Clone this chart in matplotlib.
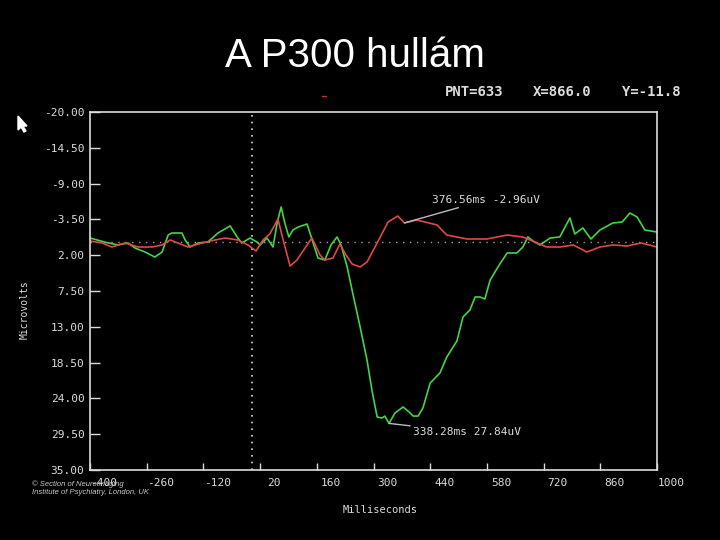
import numpy as np
import matplotlib
matplotlib.use("Agg")
import matplotlib.pyplot as plt
import matplotlib.transforms as mtransforms
from matplotlib.patches import Polygon

# ERP waveforms (ms, microvolts; negative up)
green_t = [-400, -363, -331, -306, -289, -264, -240, -222, -207, -198, -173, -165,
           -153, -133, -109, -84, -54, -35, -25, -5, 12, 20, 37, 52, 62, 72, 81,
           91, 101, 114, 136, 151, 163, 180, 195, 210, 220, 235, 247, 267, 284,
           296, 309, 321, 328, 338.28, 353, 373, 388, 398, 410, 422, 440, 464,
           481, 506, 521, 538, 551, 563, 575, 588, 612, 630, 654, 669, 681, 694,
           711, 736, 760, 773, 785, 797, 817, 837, 859, 891, 914, 933, 951, 970,
           1000]
green_v = [-0.64, 0.0, 0.43, 0.12, 0.89, 1.51, 2.28, 1.51, -1.10, -1.41, -1.41,
           -0.34, 0.74, 0.12, -0.03, -1.41, -2.49, -0.64, 0.12, -0.64, -0.03,
           0.43, -0.64, 0.74, -2.95, -5.41, -2.95, -0.80, -1.87, -2.33, -2.79,
           0.12, 2.43, 2.74, 0.43, -0.80, 0.43, 3.81, 7.34, 13.03, 18.10, 22.71,
           26.86, 27.01, 26.71, 27.84, 26.24, 25.32, 26.09, 26.71, 26.71, 25.47,
           21.63, 20.10, 17.64, 15.18, 11.49, 10.42, 8.42, 8.42, 8.73, 5.81,
           3.35, 1.66, 1.66, 0.74, -0.80, -0.18, 0.43, -0.64, -0.80, -2.33,
           -3.72, -1.26, -2.18, -0.49, -1.87, -2.95, -3.10, -4.48, -3.87, -1.87,
           -1.56]

red_t = [-400, -370, -346, -314, -281, -247, -222, -202, -183, -158, -123, -91,
         -67, -35, -10, 10, 27, 44, 64, 77, 94, 111, 136, 148, 168, 180, 200,
         217, 232, 247, 267, 284, 309, 336, 360, 376.56, 407, 457, 481, 531, 580,
         630, 669, 704, 728, 760, 793, 827, 859, 891, 926, 961, 1000]
red_v = [-0.18, 0.12, 0.74, 0.12, 0.74, 0.74, 0.43, -0.34, 0.12, 0.74, 0.12,
         -0.34, -0.64, -0.34, 0.43, 1.35, -0.34, -1.26, -3.56, -0.34, 3.66, 2.74,
         0.43, -0.64, 1.97, 2.74, 2.43, 0.28, 1.97, 3.35, 3.81, 3.04, 0.12,
         -3.10, -4.02, -2.96, -3.41, -2.64, -1.10, -0.49, -0.49, -1.10, -0.80,
         0.12, 0.74, 0.74, 0.43, 1.51, 0.74, 0.43, 0.59, 0.12, 0.74]

xticks = [-400, -260, -120, 20, 160, 300, 440, 580, 720, 860, 1000]
yticks = [-20.0, -14.5, -9.0, -3.5, 2.0, 7.5, 13.0, 18.5, 24.0, 29.5, 35.0]

fg = "#dcdcdc"
mono = "DejaVu Sans Mono"

fig = plt.figure(figsize=(7.2, 5.4), dpi=100, facecolor="black")
ax = fig.add_axes([0.125, 0.1296, 0.7875, 0.663], facecolor="black")

ax.axvline(0, color=fg, lw=1.2, ls=(0, (1, 3)))
ax.axhline(0, color="#a0a0a0", lw=1.0, ls=(0, (1, 4)))
ax.plot(green_t, green_v, color="#44d444", lw=1.2)
ax.plot(red_t, red_v, color="#e04848", lw=1.2)

ax.set_xlim(-400, 1000)
ax.set_ylim(35, -20)
ax.set_xticks(xticks)
ax.set_xticklabels([str(t) for t in xticks])
ax.set_yticks(yticks)
ax.set_yticklabels(["%.2f" % v for v in yticks])
ax.tick_params(axis="x", direction="in", length=5, width=1, colors=fg,
               labelsize=8, pad=6)
ax.tick_params(axis="y", direction="in", length=7, width=1, colors=fg,
               labelsize=8, pad=4)
for lab in ax.get_xticklabels() + ax.get_yticklabels():
    lab.set_fontfamily(mono)
shift = mtransforms.ScaledTranslation(0.14, 0, fig.dpi_scale_trans)
for lab in ax.get_xticklabels():
    lab.set_transform(lab.get_transform() + shift)
for sp in ax.spines.values():
    sp.set_color(fg)
    sp.set_linewidth(1.2)

ax.annotate("376.56ms -2.96uV", xy=(376.56, -2.96), xytext=(444, -6.5),
            color=fg, fontsize=8, family=mono, va="center", ha="left",
            arrowprops=dict(arrowstyle="-", color="#bbbbbb", lw=1,
                            shrinkA=0, shrinkB=0))
ax.annotate("338.28ms 27.84uV", xy=(338.28, 27.84), xytext=(397, 29.2),
            color=fg, fontsize=8, family=mono, va="center", ha="left",
            arrowprops=dict(arrowstyle="-", color="#bbbbbb", lw=1,
                            shrinkA=0, shrinkB=0))

fig.text(0.493, 0.896, "A P300 hullám", color="white", fontsize=29,
         family="Liberation Sans", ha="center", va="center")
fig.text(445 / 720, 1 - 92 / 540, "PNT=633", color=fg, fontsize=10,
         family=mono, weight="bold", va="center")
fig.text(533 / 720, 1 - 92 / 540, "X=866.0", color=fg, fontsize=10,
         family=mono, weight="bold", va="center")
fig.text(622 / 720, 1 - 92 / 540, "Y=-11.8", color=fg, fontsize=10,
         family=mono, weight="bold", va="center")
fig.text(25 / 720, 1 - 310 / 540, "Microvolts", color=fg, fontsize=7,
         family=mono, rotation=90, ha="center", va="center")
fig.text(380 / 720, 1 - 510 / 540, "Milliseconds", color=fg, fontsize=7.5,
         family=mono, ha="center", va="center")
fig.text(32 / 720, 1 - 484 / 540, "© Section of Neuroimaging", color="#c8c8c8",
         fontsize=5.5, style="italic", family="Liberation Sans", va="center")
fig.text(32 / 720, 1 - 492 / 540, "Institute of Psychiatry, London, UK",
         color="#c8c8c8", fontsize=5.5, style="italic",
         family="Liberation Sans", va="center")

# mouse pointer and the little red mark from the screen grab
cursor = np.array([[18, 116], [18, 130], [21, 127], [24, 132], [26, 131],
                   [23, 126], [27, 126]], dtype=float)
cursor[:, 0] /= 720
cursor[:, 1] = 1 - cursor[:, 1] / 540
fig.patches.append(Polygon(cursor, closed=True, color="white",
                           transform=fig.transFigure))
fig.lines.append(plt.Line2D([322 / 720, 326 / 720], [1 - 96 / 540, 1 - 96 / 540],
                            color="#c03030", lw=1, transform=fig.transFigure))

fig.savefig("out.png", dpi=100, facecolor="black")
